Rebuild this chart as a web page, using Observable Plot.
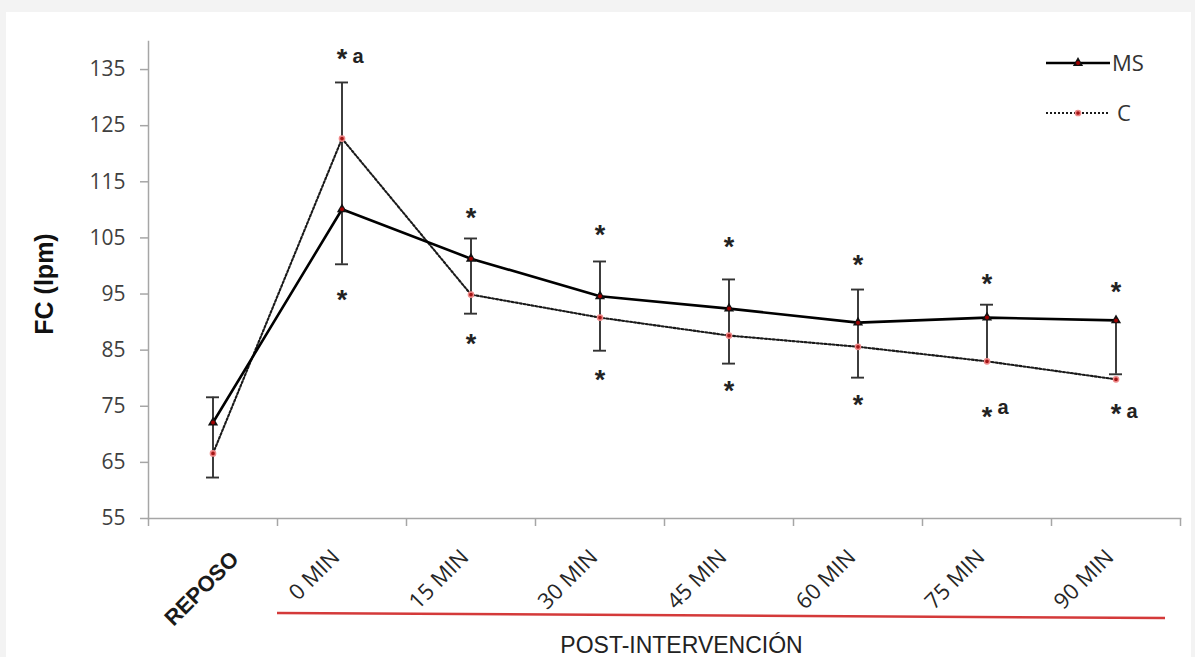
<!DOCTYPE html>
<html>
<head>
<meta charset="utf-8">
<script src="https://cdn.jsdelivr.net/npm/d3@7"></script>
<script src="https://cdn.jsdelivr.net/npm/@observablehq/plot@0.6"></script>
<style>
html, body { margin: 0; padding: 0; background: #f3f3f3; }
#wrap { position: relative; width: 1195px; height: 657px; overflow: hidden; }
#panel { position: absolute; left: 6px; top: 12px; width: 1185px; height: 645px; background: #fff; }
#chart { position: absolute; left: 0; top: 0; }
#overlay { position: absolute; left: 0; top: 0; pointer-events: none; }
</style>
</head>
<body>
<div id="wrap">
  <div id="panel"></div>
  <div id="chart"></div>
  <svg id="overlay" width="1195" height="657"></svg>
</div>
<script>
// ---- data ----
const categories = ["REPOSO", "0 MIN", "15 MIN", "30 MIN", "45 MIN", "60 MIN", "75 MIN", "90 MIN"];
const msValues = [72.1, 110.1, 101.3, 94.6, 92.4, 89.9, 90.8, 90.3];
const cValues  = [66.6, 122.7, 94.9, 90.8, 87.6, 85.6, 83.0, 79.8];
const errHigh  = [76.6, 132.7, 104.9, 100.8, 97.6, 95.8, 93.1, null];
const errLow   = [62.3, 100.3, 91.5, 84.9, 82.6, 80.1, null, 80.7];
const starsAbove = [null, 137.1, 108.8, 105.8, 103.6, 100.4, 97.0, 95.6];
const starsBelow = [null, 94.2, 86.4, 79.9, 78.0, 75.5, 73.4, 73.9];
const letterCats = ["0 MIN", "75 MIN", "90 MIN"];
const letterValues = [137.1, 74.6, 73.9];
const yTicks = [55, 65, 75, 85, 95, 105, 115, 125, 135];
const yDomain = [55, 140];
const seriesNames = ["MS", "C"];
const yLabel = "FC (lpm)";
const xGroupLabel = "POST-INTERVENCIÓN";

// ---- layout ----
const W = 1195, H = 657;
const mL = 148, mR = 15, mT = 41, mB = 139;
const bw = (W - mL - mR) / categories.length;
const pxPerUnit = (H - mT - mB) / (yDomain[1] - yDomain[0]);
const axisColor = "#a6a6a6";

const rows = categories.map((cat, i) => ({
  cat, ms: msValues[i], c: cValues[i],
  y1: errLow[i] ?? Math.min(msValues[i], cValues[i]),
  y2: errHigh[i] ?? Math.max(msValues[i], cValues[i])
}));
const caps = categories.flatMap((cat, i) =>
  [errHigh[i], errLow[i]].filter(v => v != null).map(v => ({cat, v})));
const stars = categories.flatMap((cat, i) =>
  [starsAbove[i], starsBelow[i]].filter(v => v != null).map(v => ({cat, v})));
const letters = letterCats.map((cat, i) => ({cat, v: letterValues[i]}));

const chart = Plot.plot({
  width: W, height: H,
  marginLeft: mL, marginRight: mR, marginTop: mT, marginBottom: mB,
  style: {background: "transparent", fontFamily: "'Open Sans', sans-serif", overflow: "visible"},
  x: {type: "band", domain: categories, padding: 0, axis: null},
  y: {domain: yDomain, axis: null},
  marks: [
    Plot.frame({anchor: "left", stroke: axisColor, strokeWidth: 1.5}),
    Plot.frame({anchor: "bottom", stroke: axisColor, strokeWidth: 1.5}),
    Plot.axisY({ticks: yTicks, tickSize: 8, tickPadding: 15, stroke: axisColor, strokeWidth: 1.5,
      fill: "#404040", fontSize: 21, fontFamily: "'Open Sans', sans-serif", label: null}),
    Plot.ruleX(categories, {x: d => d, y1: yDomain[0], y2: yDomain[0] - 8 / pxPerUnit, dx: -bw / 2,
      stroke: axisColor, strokeWidth: 1.5}),
    Plot.ruleX(categories.slice(-1), {x: d => d, y1: yDomain[0], y2: yDomain[0] - 8 / pxPerUnit, dx: bw / 2,
      stroke: axisColor, strokeWidth: 1.5}),
    // error bars
    Plot.ruleX(rows, {x: "cat", y1: "y1", y2: "y2", stroke: "#333", strokeWidth: 1.9}),
    Plot.tickY(caps, {x: "cat", y: "v", insetLeft: (bw - 13) / 2, insetRight: (bw - 13) / 2,
      stroke: "#333", strokeWidth: 1.9}),
    // lines
    Plot.lineY(rows, {x: "cat", y: "c", stroke: "#1a1a1a", strokeWidth: 2.1, strokeDasharray: "2,2"}),
    Plot.lineY(rows, {x: "cat", y: "ms", stroke: "#000", strokeWidth: 2.6}),
    // markers
    Plot.dot(rows, {x: "cat", y: "ms", symbol: "triangle", r: 3.8, fill: "#111"}),
    Plot.dot(rows, {x: "cat", y: "ms", r: 2, fill: "#a00000"}),
    Plot.dot(rows, {x: "cat", y: "c", r: 2.6, fill: "#a51515", stroke: "#ef8a8a", strokeWidth: 1.5}),
    // significance marks
    Plot.text(stars, {x: "cat", y: "v", text: () => "*", fontSize: 27, fontWeight: "bold",
      fontFamily: "'Liberation Sans', sans-serif", fill: "#222", dy: 2}),
    Plot.text(letters, {x: "cat", y: "v", text: () => "a", fontSize: 20, fontWeight: "bold",
      fontFamily: "'Liberation Sans', sans-serif", fill: "#222", dx: 16, dy: -1}),
    // x tick labels
    Plot.text(categories.slice(1), {x: d => d, text: d => d, frameAnchor: "bottom", dy: 40, dx: -1,
      rotate: -45, textAnchor: "end", lineAnchor: "bottom", fontSize: 22, fill: "#262626",
      fontFamily: "'Open Sans', sans-serif"}),
    Plot.text(categories.slice(0, 1), {x: d => d, text: d => d, frameAnchor: "bottom", dy: 42, dx: 27,
      rotate: -45, textAnchor: "end", lineAnchor: "bottom", fontSize: 22, fontWeight: "bold", fill: "#1a1a1a",
      fontFamily: "'Liberation Sans', sans-serif"}),
    // axis titles
    Plot.text([yLabel], {text: d => d, frameAnchor: "left", dx: -104, dy: 4, rotate: -90,
      textAnchor: "middle", fontSize: 25, fontWeight: "bold", fill: "#111",
      fontFamily: "'Liberation Sans', sans-serif"}),
    Plot.text([xGroupLabel], {text: d => d, frameAnchor: "bottom", dx: 17, dy: 134, lineAnchor: "bottom",
      textAnchor: "middle", fontSize: 23, fill: "#222", fontFamily: "'Liberation Sans', sans-serif"})
  ]
});
document.getElementById("chart").appendChild(chart);

// ---- overlay: red bracket line and legend ----
const ov = d3.select("#overlay");
ov.append("line").attr("x1", 277).attr("y1", 613).attr("x2", 1165).attr("y2", 618)
  .attr("stroke", "#d43a3a").attr("stroke-width", 2.5);

const legendY = [63, 113];
const lg = ov.append("g");
// MS
lg.append("line").attr("x1", 1046).attr("x2", 1110).attr("y1", legendY[0]).attr("y2", legendY[0])
  .attr("stroke", "#000").attr("stroke-width", 2.6);
lg.append("path").attr("d", d3.symbol(d3.symbolTriangle, Math.PI * 3.8 * 3.8)())
  .attr("transform", `translate(1078,${legendY[0]})`).attr("fill", "#111");
lg.append("circle").attr("cx", 1078).attr("cy", legendY[0]).attr("r", 2).attr("fill", "#a00000");
lg.append("text").attr("x", 1112).attr("y", legendY[0]).attr("dy", "0.36em").text(seriesNames[0])
  .attr("font-family", "'Open Sans', sans-serif").attr("font-size", 22).attr("fill", "#333");
// C
lg.append("line").attr("x1", 1046).attr("x2", 1110).attr("y1", legendY[1]).attr("y2", legendY[1])
  .attr("stroke", "#1a1a1a").attr("stroke-width", 2.1).attr("stroke-dasharray", "2,2");
lg.append("circle").attr("cx", 1078).attr("cy", legendY[1]).attr("r", 2.6)
  .attr("fill", "#a51515").attr("stroke", "#ef8a8a").attr("stroke-width", 1.5);
lg.append("text").attr("x", 1117).attr("y", legendY[1]).attr("dy", "0.36em").text(seriesNames[1])
  .attr("font-family", "'Open Sans', sans-serif").attr("font-size", 22).attr("fill", "#333");
</script>
</body>
</html>
